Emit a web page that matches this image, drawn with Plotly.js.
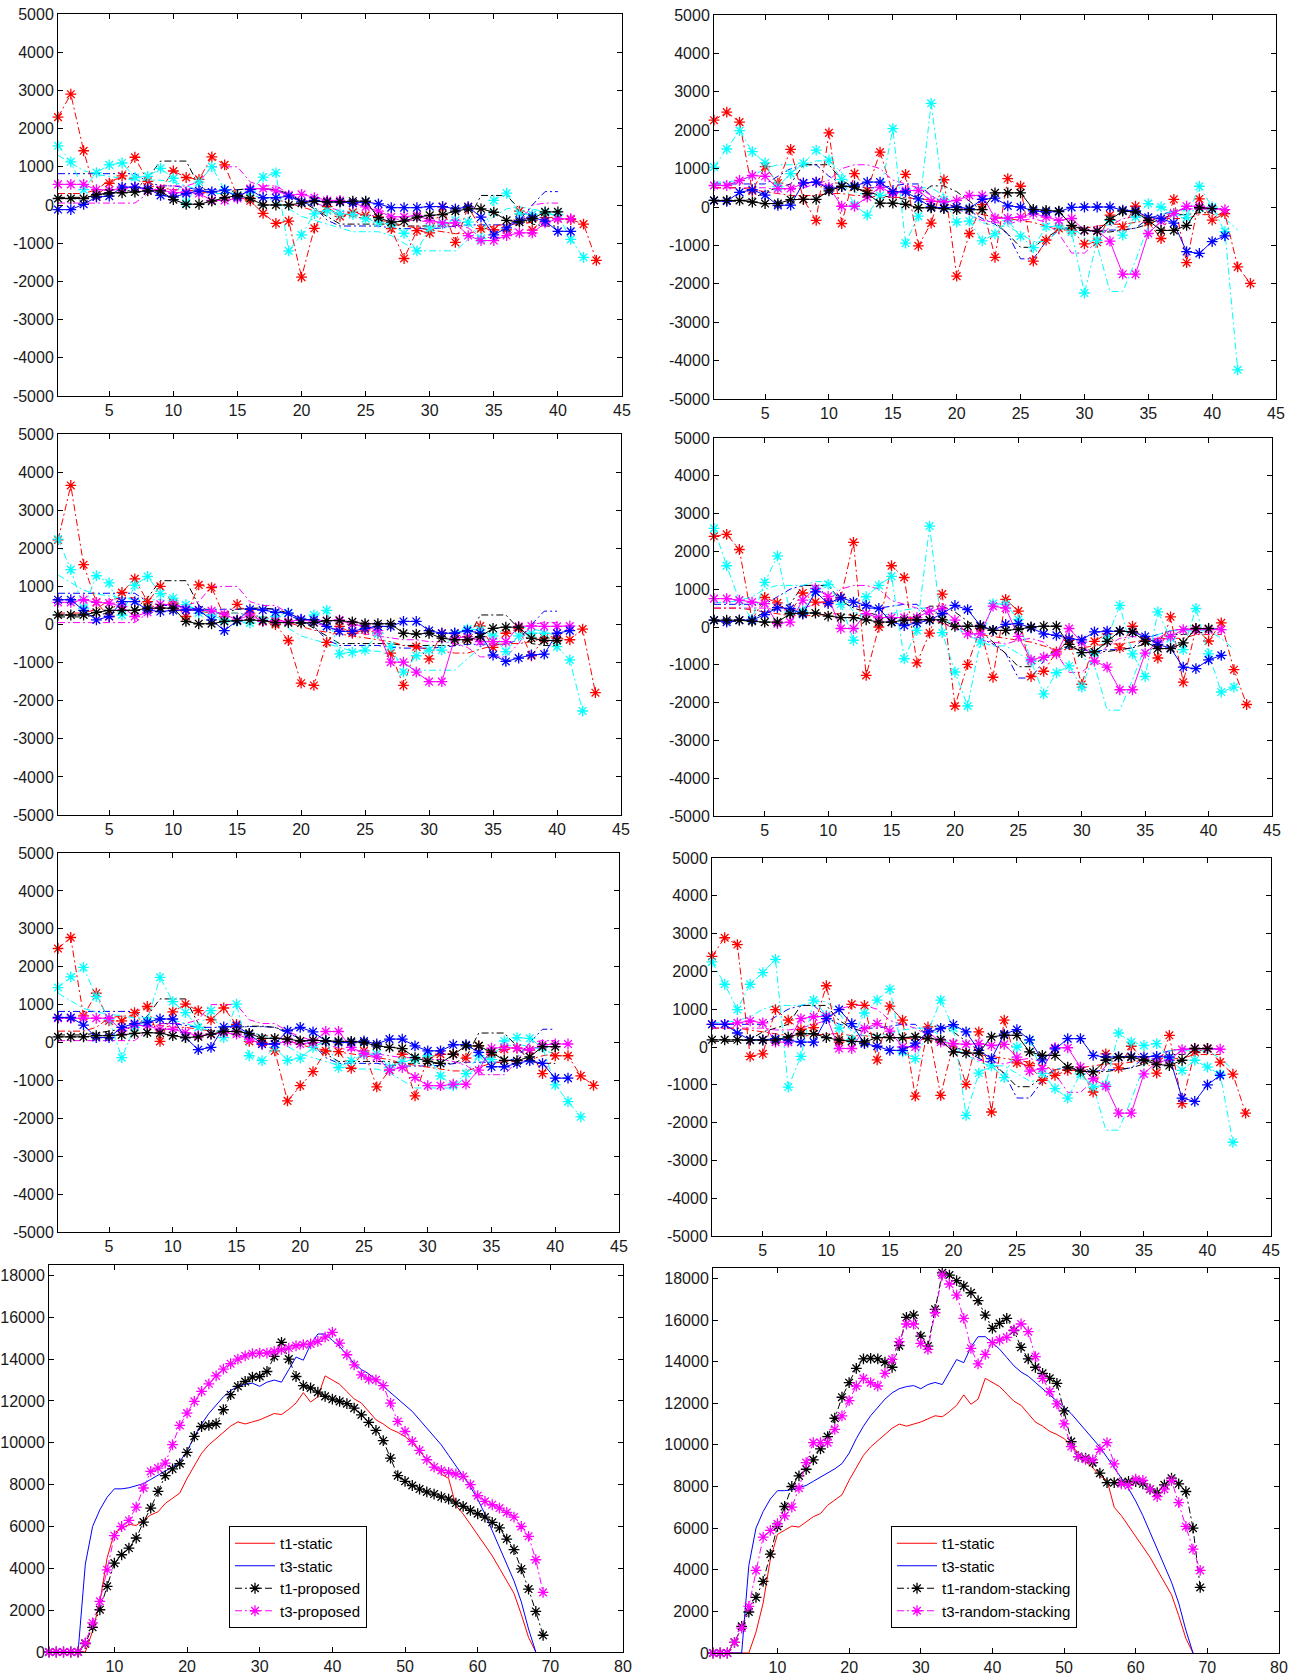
<!DOCTYPE html>
<html><head><meta charset="utf-8">
<script src="https://cdn.plot.ly/plotly-3.0.1.min.js"></script>
<style>html,body{margin:0;padding:0;background:#fff}#chart{width:1296px;height:1676px}</style>
</head><body><div id="chart"></div>
<script>
// ---------- tick labels ----------
const xTicksTop = [5,10,15,20,25,30,35,40,45];
const yTicksTop = [-5000,-4000,-3000,-2000,-1000,0,1000,2000,3000,4000,5000];
const xTicksBottom = [10,20,30,40,50,60,70,80];
const yTicksBottom = [0,2000,4000,6000,8000,10000,12000,14000,16000,18000];

// ---------- panel 1 (row 1, left) ----------
const p1Red   = [2300,2900,1420,220,570,760,1250,620,400,890,720,670,1260,1050,220,110,-220,-480,-420,-1890,-610,-40,-300,-190,-270,-320,-620,-1400,-670,-730,-50,-980,-50,-620,-650,-650,-160,-660,-330,-360,-380,-500,-1450];
const p1Cyan  = [1550,1130,400,850,1050,1100,720,750,960,700,50,600,1000,400,250,350,730,840,-1200,-780,-230,-150,-230,-250,-360,-450,-500,-740,-1200,-600,-500,-400,-450,-880,120,310,-230,-250,-200,-250,-900,-1370];
const p1Mag   = [540,540,540,400,390,430,470,390,400,320,340,300,120,120,170,430,430,370,260,280,190,120,120,50,-50,-160,-310,-310,-270,-400,-470,-470,-800,-930,-930,-800,-730,-730,-470,-360,-360];
const p1Blue  = [-120,-120,20,210,230,470,470,430,250,210,300,370,340,390,210,400,190,190,230,80,120,80,80,50,80,30,-70,-70,-70,-40,-40,-100,-50,-320,-780,-600,-400,-320,-420,-690,-690];
const p1Black = [170,170,170,270,320,320,340,370,370,140,20,20,100,190,250,170,0,0,0,50,100,80,80,100,100,-330,-450,-420,-320,-270,-250,-160,-100,-100,-190,-400,-450,-360,-180,-180];

// ---------- panel 2 (row 1, right) ----------
const p2Red   = [2260,2470,2210,420,1050,620,1500,200,-350,1930,-430,870,430,1430,380,850,-1010,-420,710,-1800,-690,60,-1310,740,540,-1410,-860,-560,-600,-960,-920,-210,-520,20,-400,-820,200,-1450,210,-340,-170,-1560,-1990];
const p2Cyan  = [1040,1510,1990,1440,1150,530,870,1140,1480,1220,720,50,-210,300,2040,-940,-240,2700,190,-390,-370,-880,-700,-350,-760,-1060,-510,-500,-650,-2240,-870,-350,-730,-260,90,0,-170,-280,540,0,-640,-4240];
const p2Mag   = [560,560,690,820,800,480,480,610,650,520,20,20,260,520,350,430,430,150,130,170,300,300,-290,-290,-260,-170,-260,-350,-300,-610,-610,-890,-1750,-1750,-690,-370,-170,20,20,-40,-70];
const p2Blue  = [170,150,380,450,310,40,50,630,650,470,530,550,650,650,400,390,210,0,-20,0,-40,200,230,30,0,-100,-130,-120,-10,0,0,0,-80,-100,-270,-300,-420,-1160,-1210,-900,-750];
const p2Black = [170,170,170,130,90,90,190,200,200,420,540,520,350,100,100,70,-20,-20,-40,-70,-70,-70,370,370,370,-60,-90,-110,-480,-610,-630,-330,-110,-130,-350,-610,-610,-480,-20,-40];

// ---------- panel 3 (row 2, left) ----------
const p3Red   = [2220,3650,1570,580,210,840,1200,600,1000,560,210,1040,970,210,530,300,80,0,-420,-1540,-1600,-470,-50,-230,-140,-230,-750,-1600,-580,-900,-230,-230,-400,-40,-600,-230,-100,-820,-360,-360,-400,-120,-1790];
const p3Cyan  = [2240,1440,430,1280,1090,250,1030,1260,810,690,520,300,250,120,80,40,120,210,300,120,250,370,-770,-730,-670,-230,-580,-1250,-820,-670,-670,-230,-120,-140,-300,-710,-300,-230,-230,-580,-930,-2270];
const p3Mag   = [580,580,650,580,560,470,210,320,530,520,400,380,360,270,120,250,80,100,80,120,120,100,120,0,-40,-160,-990,-990,-1250,-1500,-1500,-360,-320,-450,-450,-450,-50,-40,-50,-50,-40];
const p3Blue  = [650,650,370,120,210,600,600,380,340,370,380,380,120,-160,100,400,380,320,300,140,120,-50,-180,-180,-100,-50,-50,80,80,-160,-230,-230,-160,-230,-800,-970,-880,-800,-780,-230,-160];
const p3Black = [250,250,250,320,370,370,370,430,430,430,80,20,20,80,100,120,100,50,50,40,50,100,100,70,20,20,20,-230,-250,-230,-360,-400,-400,-320,-100,-70,-70,-360,-420,-420];

// ---------- panel 4 (row 2, right) ----------
const p4Red   = [2400,2450,2050,180,780,640,370,900,660,660,780,2240,-1280,0,1620,1310,-950,-160,870,-2090,-990,-40,-1330,730,420,-1310,-1170,-660,-350,-1520,-380,-180,-550,20,-370,-820,270,-1460,-40,-370,110,-1130,-2050];
const p4Cyan  = [2610,1620,700,200,1180,1880,400,420,1000,1130,600,-350,800,1100,1340,-840,-90,2670,-150,-1190,-2090,-400,620,600,200,-900,-1770,-1210,-1030,-1590,-700,-300,570,-710,-1310,400,-300,-600,490,-710,-1720,-1590];
const p4Mag   = [750,750,710,660,620,90,130,710,1020,810,-40,-40,350,250,250,250,250,420,490,180,-180,-180,550,500,-250,-870,-800,-710,-40,-400,-900,-1060,-1660,-1660,-690,-400,-250,-70,-70,-70,-70];
const p4Blue  = [180,130,180,180,330,510,490,340,930,620,770,660,570,490,130,40,110,180,350,570,460,40,-90,70,90,-20,-180,-220,-310,-340,-130,-110,-110,-130,-250,-460,-560,-1060,-1100,-870,-750];
const p4Black = [180,180,180,150,130,130,350,370,370,290,250,250,190,130,130,180,190,190,190,20,20,20,-90,-90,-60,0,20,20,-460,-680,-660,-380,-110,-130,-380,-570,-570,-420,-40,-40];

// ---------- panel 5 (row 3, left) ----------
const p5Red   = [2480,2770,700,1300,570,570,790,950,30,810,1010,840,600,910,480,30,0,-220,-1540,-1140,-770,-220,-240,-680,-220,-1170,-730,-310,-1410,-400,-310,-310,-410,-90,-310,-180,-150,-200,-820,-350,-350,-880,-1130];
const p5Cyan  = [1450,1730,1980,1210,620,-400,400,570,1720,1080,790,400,840,130,1010,-350,-480,-130,-470,-410,-130,40,-660,-480,-310,-300,-660,-500,-450,-350,-880,-1140,-820,-350,-450,40,130,110,-130,-1120,-1560,-1960];
const p5Mag   = [640,640,640,640,640,310,460,440,350,350,260,180,220,260,220,90,-40,-40,30,-40,0,290,290,-130,-290,-380,-730,-660,-920,-1140,-1140,-1100,-1100,-730,-150,-130,-150,-200,-60,-40,-40];
const p5Blue  = [660,660,460,130,130,400,500,530,620,620,130,-190,-130,410,440,220,-40,-40,310,400,280,40,0,0,40,-40,90,90,-90,-220,-220,-60,-60,-260,-640,-640,-550,-480,-550,-940,-940];
const p5Black = [150,150,150,180,180,200,240,260,250,180,130,150,220,290,290,240,110,110,90,40,60,40,30,30,0,-90,-130,-160,-400,-500,-550,-310,-90,-90,-260,-470,-480,-380,-110,-110];

// ---------- panel 6 (row 3, right) ----------
const p6Red   = [2400,2890,2710,-250,-180,990,710,460,510,1620,130,1130,1100,-340,1080,710,-1300,530,-1280,90,-990,400,-1720,710,-420,-490,-880,-750,-620,-620,-1190,-180,-550,20,-350,-690,310,-1500,-130,-40,-400,-720,-1750];
const p6Cyan  = [2250,1660,990,1660,1970,2320,-1060,-250,1240,840,500,200,900,1240,1530,-130,-310,400,1240,500,-1810,-690,-500,-810,0,180,-700,-1100,-1350,-710,-1060,-1000,370,130,40,90,-300,-620,-350,-530,-720,-2520];
const p6Mag   = [600,600,640,690,640,130,130,750,800,810,-40,-40,490,620,420,0,0,400,130,90,70,90,40,70,-270,-640,-570,-20,-20,-530,-840,-1040,-1750,-1750,-710,-400,-350,-70,-40,-40,-60];
const p6Blue  = [600,600,370,190,190,220,180,130,130,750,990,620,90,20,-90,-90,100,400,490,590,400,-90,-310,340,460,190,-340,-50,220,220,-220,-270,-260,-250,-260,-250,-270,-1350,-1440,-1000,-750];
const p6Black = [190,190,190,180,180,180,270,350,350,250,180,150,130,250,250,250,270,220,190,-130,-160,-160,270,310,310,-130,-220,-220,-530,-640,-660,-350,-270,-270,-350,-460,-490,-350,-40,-40];

// ---------- unmarked reference profiles (left column) ----------
const refLBlue  = [820,820,820,820,820,820,820,600,500,500,450,400,400,400,400,420,420,400,250,100,-50,-400,-550,-550,-550,-550,-600,-620,-620,-620,-600,-550,-520,-520,-520,-520,-400,0,350,350];
const refLBlack = [200,200,200,250,300,350,400,700,1150,1150,1150,500,300,300,400,430,430,400,300,100,-100,-300,-500,-500,-500,-500,-500,-550,-550,-550,-550,-550,-400,250,250,250,-100,-500,-550,-550];
const refLMag   = [50,50,50,50,50,50,50,300,500,500,500,600,1000,1000,1000,600,500,500,300,150,50,-50,-150,-200,-250,-300,-350,-400,-400,-450,-450,-500,-600,-850,-850,-850,-500,0,50,50];
const refLRed   = [300,300,300,400,650,700,700,500,450,400,400,350,300,300,300,250,200,150,50,-50,-150,-200,-250,-300,-350,-400,-450,-550,-600,-650,-700,-750,-750,-650,-550,-500,-500,-450,-350,-300];
const refLCyan  = [1300,1100,900,800,750,700,650,650,650,600,500,400,300,300,300,250,200,100,-100,-300,-400,-500,-600,-700,-700,-700,-800,-1000,-1200,-1200,-1200,-1200,-900,-600,-300,-100,-50,-100,-200,-300];

// ---------- unmarked reference profiles (right column) ----------
const refRBlue  = [600,600,600,600,600,800,1000,1100,1100,800,600,550,500,500,550,600,600,300,100,0,-100,-300,-450,-700,-1350,-1350,-900,-600,-550,-600,-650,-600,-600,-550,-300,-200,-100,-50,-50,-50,-50];
const refRBlack = [150,150,150,200,400,500,600,1100,1100,1100,700,500,400,300,250,200,300,550,550,400,150,-100,-400,-700,-1050,-1050,-800,-600,-500,-550,-650,-650,-600,-550,-450,-300,-200,-200,-150,-150];
const refRMag   = [500,500,500,500,500,450,450,500,600,700,1000,1100,1100,1000,700,600,500,300,100,-50,-200,-350,-400,-450,-350,-300,-400,-700,-1200,-1200,-900,-500,-300,-250,-300,-300,-100,-50,-50,-50,-50];
const refRCyan  = [650,650,700,800,1000,1100,1100,1100,1200,1200,900,400,300,300,350,450,500,500,300,0,-200,-400,-500,-500,-700,-900,-900,-600,-500,-800,-1000,-2200,-2200,-1400,-500,-200,-100,-100,-100,-100,-300,-600];
const refRRed   = [500,500,500,450,400,350,300,300,300,350,350,300,300,250,250,250,200,200,100,0,-100,-200,-250,-300,-350,-400,-500,-600,-600,-550,-500,-450,-450,-400,-350,-300,-300,-300,-200,-200,-200];

// ---------- bottom panels ----------
const t1Static = [0,0,0,0,0,0,1000,2400,4500,5700,5900,6100,6050,6300,6550,6700,7100,7350,7600,8300,8900,9500,9900,10200,10500,10800,11000,10900,11000,11100,11250,11400,11350,11600,11900,12400,11950,12200,13200,13000,12800,12450,12100,11900,11500,11100,10900,10650,10500,10300,10000,9600,9200,8900,8500,8300,7000,6600,6100,5600,5100,4600,4000,3400,2800,1800,700,0];
const t3Static = [0,0,0,0,0,4200,6000,6800,7400,7800,7800,7850,7950,8050,8250,8450,8650,8850,9100,9600,10300,10900,11400,11800,12200,12500,12700,12800,12850,12700,12900,13000,12900,13500,14100,13950,14700,15200,15200,14900,14600,14200,13800,13500,13300,13000,12700,12400,12100,11800,11500,11100,10700,10300,9900,9400,8900,8400,7900,7300,6600,5800,5000,4200,3400,2400,1100,0];
const t1Proposed = [0,0,0,0,0,400,1180,2020,3140,4250,4650,4970,5450,6210,6880,7680,8430,8750,9000,9540,10310,10780,10830,10910,11580,12300,12700,12930,13140,13170,13410,14130,14800,14000,13170,12730,12620,12420,12220,12090,11980,11870,11660,11340,10980,10590,10100,9270,8430,8160,7960,7790,7650,7550,7410,7310,7120,6960,6770,6610,6450,6200,5930,5400,4890,3970,3010,1940,800];
const t3Proposed = [0,0,0,0,0,430,1390,2420,3930,5560,6000,6290,6930,7840,8630,8790,9030,9910,10830,11420,11980,12460,12820,13200,13520,13780,14000,14160,14260,14290,14290,14370,14450,14530,14640,14690,14730,14850,15050,15280,14770,14210,13730,13250,13050,13010,12730,11900,11020,10540,10070,9640,9190,8840,8680,8590,8510,8390,8000,7470,7200,7040,6880,6670,6450,6000,5530,4410,2850];
const t1Random = [0,0,0,510,1280,1970,2670,3440,4750,6080,7040,8000,8510,8830,9280,9810,10400,11280,12290,12990,13680,14130,14160,14130,13970,13730,14770,16130,16240,15230,14750,16510,18270,18160,17890,17630,17310,16930,16240,15600,15840,16080,15490,14690,14130,13730,13440,13200,12960,11630,10160,9440,9360,9150,8640,8190,8190,8190,8240,8240,8130,7870,7710,8080,8400,8130,7760,6000,3150];
const t3Random = [0,0,0,510,1200,2240,3970,5570,5890,6210,6590,7010,7920,9150,10110,10110,10110,10750,11390,12130,12830,13200,12990,12830,13440,14110,14960,15810,15810,14880,14590,16350,18160,17730,17200,16080,14640,13890,14350,14910,15040,15170,15520,15810,15440,14240,13200,12560,11970,11010,9920,9440,9310,9280,9790,10110,9090,8130,8050,8350,8290,7870,7520,7870,8290,7230,6080,4990,3970];

// ---------- layout geometry (pixels) ----------
const W = 1296, H = 1676;
const boxes = [
  [58, 622, 14, 396], [714, 1276, 15, 399],
  [58, 621, 434, 815], [714, 1272, 438, 816],
  [58, 619, 853, 1232], [712, 1271, 858, 1236],
  [49, 623, 1265, 1652], [713, 1279, 1268, 1653]
];
const COL = {red:'#ff0000', cyan:'#00ffff', mag:'#ff00ff', blue:'#0000ff', black:'#000000'};
const DASHDOT = '7px,3px,2px,3px';
const idx = a => a.map((_, i) => i + 1);
const sfx = n => n === 1 ? '' : String(n);

const traces = [];
function refLine(panel, arr, color) {
  traces.push({x: idx(arr), y: arr, xaxis: 'x' + sfx(panel), yaxis: 'y' + sfx(panel),
    mode: 'lines', line: {color: color, width: 1, dash: DASHDOT}, showlegend: false, hoverinfo: 'skip'});
}
function marked(panel, arr, color, dash) {
  traces.push({x: idx(arr), y: arr, xaxis: 'x' + sfx(panel), yaxis: 'y' + sfx(panel),
    mode: 'lines+markers', cliponaxis: false,
    line: {color: color, width: 1, dash: dash},
    marker: {symbol: 'asterisk-open', size: 9, color: color, line: {color: color, width: 1.3}},
    showlegend: false});
}
const panels = [
  [p1Red, p1Cyan, p1Mag, p1Blue, p1Black],
  [p2Red, p2Cyan, p2Mag, p2Blue, p2Black],
  [p3Red, p3Cyan, p3Mag, p3Blue, p3Black],
  [p4Red, p4Cyan, p4Mag, p4Blue, p4Black],
  [p5Red, p5Cyan, p5Mag, p5Blue, p5Black],
  [p6Red, p6Cyan, p6Mag, p6Blue, p6Black]
];
panels.forEach((s, i) => {
  const p = i + 1;
  const left = (i % 2 === 0);
  const R = left ? [refLBlue, refLBlack, refLMag, refLRed, refLCyan] : [refRBlue, refRBlack, refRMag, refRRed, refRCyan];
  refLine(p, R[0], COL.blue); refLine(p, R[1], COL.black); refLine(p, R[2], COL.mag);
  refLine(p, R[3], COL.red); refLine(p, R[4], COL.cyan);
  marked(p, s[0], COL.red, DASHDOT);
  marked(p, s[1], COL.cyan, DASHDOT);
  marked(p, s[2], COL.mag, 'solid');
  marked(p, s[3], COL.blue, 'solid');
  marked(p, s[4], COL.black, 'solid');
});

function bottom(panel, legendId, names, blackArr, magArr) {
  const ax = {xaxis: 'x' + sfx(panel), yaxis: 'y' + sfx(panel), legend: legendId};
  traces.push(Object.assign({x: idx(t1Static), y: t1Static, mode: 'lines', name: names[0],
    line: {color: COL.red, width: 1}}, ax));
  traces.push(Object.assign({x: idx(t3Static), y: t3Static, mode: 'lines', name: names[1],
    line: {color: COL.blue, width: 1}}, ax));
  traces.push(Object.assign({x: idx(blackArr), y: blackArr, mode: 'lines+markers', name: names[2], cliponaxis: false,
    line: {color: COL.black, width: 1, dash: DASHDOT},
    marker: {symbol: 'asterisk-open', size: 9, color: COL.black, line: {color: COL.black, width: 1.3}}}, ax));
  traces.push(Object.assign({x: idx(magArr), y: magArr, mode: 'lines+markers', name: names[3], cliponaxis: false,
    line: {color: COL.mag, width: 1, dash: DASHDOT},
    marker: {symbol: 'asterisk-open', size: 9, color: COL.mag, line: {color: COL.mag, width: 1.3}}}, ax));
}
bottom(7, 'legend', ['t1-static', 't3-static', 't1-proposed', 't3-proposed'], t1Proposed, t3Proposed);
bottom(8, 'legend2', ['t1-static', 't3-static', 't1-random-stacking', 't3-random-stacking'], t1Random, t3Random);

const FONT = 'Liberation Sans, Arial, sans-serif';
const layout = {
  width: W, height: H, autosize: false,
  margin: {l: 0, r: 0, t: 0, b: 0},
  paper_bgcolor: '#fff', plot_bgcolor: '#fff',
  font: {family: FONT, size: 16, color: '#1a1a1a'},
  showlegend: true,
  hovermode: false
};
const axCommon = {showline: true, linecolor: '#000', linewidth: 1, mirror: 'allticks',
  ticks: 'inside', ticklen: 5, tickcolor: '#000', tickwidth: 1,
  zeroline: false, showgrid: false, fixedrange: true,
  tickfont: {family: FONT, size: 16, color: '#1a1a1a'}};
boxes.forEach((b, i) => {
  const n = i + 1, s = sfx(n), isB = i >= 6;
  const xt = isB ? xTicksBottom : xTicksTop;
  const yt = isB ? yTicksBottom : yTicksTop;
  layout['xaxis' + s] = Object.assign({}, axCommon, {
    domain: [b[0] / W, b[1] / W], anchor: 'y' + s,
    range: isB ? [1, 80] : [1, 45], tickmode: 'array', tickvals: xt, ticktext: xt.map(String)});
  layout['yaxis' + s] = Object.assign({}, axCommon, {
    domain: [1 - b[3] / H, 1 - b[2] / H], anchor: 'x' + s,
    range: isB ? [0, 18500] : [-5000, 5000], tickmode: 'array', tickvals: yt, ticktext: yt.map(String)});
});
const legCommon = {xanchor: 'left', yanchor: 'top', bgcolor: '#fff', bordercolor: '#000', borderwidth: 1,
  font: {family: FONT, size: 15, color: '#000'}, itemwidth: 40, tracegroupgap: 0, traceorder: 'normal'};
layout.legend = Object.assign({}, legCommon, {x: 229 / W, y: 1 - 1526 / H});
layout.legend2 = Object.assign({}, legCommon, {x: 891 / W, y: 1 - 1526 / H});

Plotly.newPlot('chart', traces, layout, {displayModeBar: false, staticPlot: true});
</script>
</body></html>
